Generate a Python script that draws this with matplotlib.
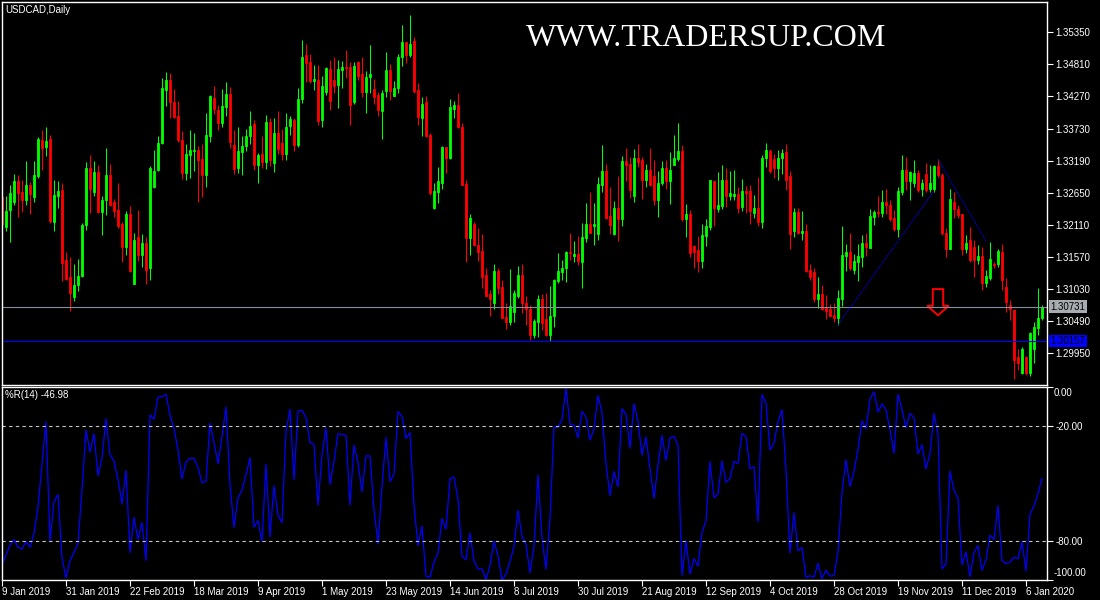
import numpy as np
import pandas as pd
import matplotlib
matplotlib.use('Agg')
import matplotlib.pyplot as plt
from matplotlib.patches import Polygon
import matplotlib.transforms as mtransforms

# USDCAD daily candles, 9 Jan 2019 .. 6 Jan 2020 (prices)
opens = [1.3258, 1.3208, 1.3236, 1.3250, 1.3285, 1.3266, 1.3253, 1.3278, 1.3258, 1.3293,
         1.3354, 1.3342, 1.3355, 1.3216, 1.3259, 1.3270, 1.3152, 1.3124, 1.3090, 1.3110,
         1.3125, 1.3211, 1.3306, 1.3267, 1.3300, 1.3233, 1.3253, 1.3295, 1.3250, 1.3236,
         1.3213, 1.3174, 1.3230, 1.3112, 1.3190, 1.3160, 1.3180, 1.3139, 1.3275, 1.3304,
         1.3348, 1.3438, 1.3455, 1.3418, 1.3394, 1.3354, 1.3299, 1.3329, 1.3336, 1.3337,
         1.3321, 1.3295, 1.3361, 1.3424, 1.3405, 1.3383, 1.3410, 1.3431, 1.3346, 1.3307,
         1.3334, 1.3344, 1.3360, 1.3381, 1.3312, 1.3330, 1.3316, 1.3384, 1.3315, 1.3366,
         1.3348, 1.3330, 1.3377, 1.3387, 1.3345, 1.3422, 1.3496, 1.3485, 1.3453, 1.3455,
         1.3387, 1.3434, 1.3474, 1.3454, 1.3446, 1.3471, 1.3476, 1.3476, 1.3418, 1.3485,
         1.3464, 1.3435, 1.3459, 1.3439, 1.3429, 1.3403, 1.3436, 1.3471, 1.3428, 1.3442,
         1.3493, 1.3519, 1.3496, 1.3520, 1.3438, 1.3391, 1.3417, 1.3362, 1.3239, 1.3266,
         1.3282, 1.3342, 1.3324, 1.3406, 1.3412, 1.3376, 1.3279, 1.3189, 1.3212, 1.3178,
         1.3167, 1.3126, 1.3094, 1.3080, 1.3133, 1.3107, 1.3056, 1.3048, 1.3064, 1.3092,
         1.3126, 1.3080, 1.3070, 1.3025, 1.3047, 1.3087, 1.3052, 1.3025, 1.3057, 1.3116,
         1.3132, 1.3139, 1.3166, 1.3159, 1.3162, 1.3149, 1.3189, 1.3212, 1.3209, 1.3195,
         1.3278, 1.3301, 1.3226, 1.3195, 1.3239, 1.3221, 1.3318, 1.3313, 1.3259, 1.3324,
         1.3320, 1.3287, 1.3303, 1.3293, 1.3253, 1.3282, 1.3306, 1.3285, 1.3311, 1.3322,
         1.3335, 1.3221, 1.3229, 1.3175, 1.3168, 1.3150, 1.3192, 1.3208, 1.3285, 1.3237,
         1.3243, 1.3287, 1.3260, 1.3259, 1.3263, 1.3241, 1.3268, 1.3268, 1.3231, 1.3240,
         1.3216, 1.3323, 1.3335, 1.3322, 1.3307, 1.3324, 1.3333, 1.3293, 1.3200, 1.3233,
         1.3198, 1.3201, 1.3135, 1.3131, 1.3086, 1.3095, 1.3071, 1.3069, 1.3059, 1.3055,
         1.3086, 1.3158, 1.3165, 1.3135, 1.3149, 1.3157, 1.3181, 1.3172, 1.3225, 1.3233,
         1.3231, 1.3250, 1.3245, 1.3222, 1.3204, 1.3267, 1.3304, 1.3284, 1.3281, 1.3299,
         1.3271, 1.3297, 1.3271, 1.3271, 1.3310, 1.3295, 1.3198, 1.3171, 1.3250, 1.3237,
         1.3229, 1.3170, 1.3186, 1.3174, 1.3152, 1.3159, 1.3113, 1.3122, 1.3146, 1.3146,
         1.3166, 1.3106, 1.3077, 1.3068, 1.2989, 1.2962, 1.2989, 1.2962, 1.3003, 1.3038,
         1.3054]
highs = [1.3272, 1.3259, 1.3278, 1.3296, 1.3295, 1.3286, 1.3318, 1.3283, 1.3318, 1.3358,
         1.3371, 1.3375, 1.3362, 1.3286, 1.3285, 1.3281, 1.3165, 1.3157, 1.3146, 1.3153,
         1.3215, 1.3317, 1.3328, 1.3318, 1.3312, 1.3259, 1.3340, 1.3313, 1.3254, 1.3281,
         1.3216, 1.3234, 1.3243, 1.3197, 1.3236, 1.3195, 1.3190, 1.3310, 1.3337, 1.3361,
         1.3458, 1.3469, 1.3467, 1.3439, 1.3419, 1.3369, 1.3347, 1.3371, 1.3365, 1.3344,
         1.3347, 1.3400, 1.3430, 1.3445, 1.3413, 1.3439, 1.3452, 1.3443, 1.3371, 1.3375,
         1.3360, 1.3373, 1.3403, 1.3388, 1.3332, 1.3361, 1.3395, 1.3390, 1.3391, 1.3402,
         1.3372, 1.3399, 1.3394, 1.3390, 1.3442, 1.3522, 1.3516, 1.3498, 1.3480, 1.3480,
         1.3461, 1.3477, 1.3489, 1.3493, 1.3488, 1.3486, 1.3505, 1.3485, 1.3485, 1.3486,
         1.3493, 1.3470, 1.3513, 1.3456, 1.3435, 1.3438, 1.3502, 1.3481, 1.3453, 1.3498,
         1.3547, 1.3519, 1.3564, 1.3527, 1.3449, 1.3426, 1.3428, 1.3366, 1.3282, 1.3309,
         1.3344, 1.3342, 1.3422, 1.3419, 1.3432, 1.3383, 1.3286, 1.3229, 1.3216, 1.3206,
         1.3195, 1.3139, 1.3102, 1.3145, 1.3139, 1.3119, 1.3080, 1.3136, 1.3102, 1.3142,
         1.3145, 1.3091, 1.3077, 1.3053, 1.3093, 1.3094, 1.3097, 1.3109, 1.3120, 1.3164,
         1.3152, 1.3167, 1.3198, 1.3184, 1.3192, 1.3215, 1.3248, 1.3267, 1.3247, 1.3291,
         1.3345, 1.3314, 1.3274, 1.3251, 1.3293, 1.3327, 1.3341, 1.3325, 1.3338, 1.3347,
         1.3325, 1.3314, 1.3341, 1.3320, 1.3301, 1.3318, 1.3320, 1.3334, 1.3362, 1.3383,
         1.3345, 1.3246, 1.3236, 1.3177, 1.3192, 1.3213, 1.3221, 1.3286, 1.3285, 1.3300,
         1.3311, 1.3307, 1.3301, 1.3304, 1.3274, 1.3289, 1.3276, 1.3278, 1.3261, 1.3291,
         1.3328, 1.3349, 1.3338, 1.3331, 1.3337, 1.3338, 1.3347, 1.3302, 1.3239, 1.3239,
         1.3235, 1.3213, 1.3146, 1.3138, 1.3124, 1.3110, 1.3093, 1.3078, 1.3079, 1.3102,
         1.3209, 1.3179, 1.3197, 1.3162, 1.3179, 1.3194, 1.3197, 1.3238, 1.3236, 1.3259,
         1.3270, 1.3272, 1.3253, 1.3236, 1.3274, 1.3329, 1.3325, 1.3302, 1.3320, 1.3303,
         1.3289, 1.3315, 1.3312, 1.3312, 1.3321, 1.3298, 1.3205, 1.3271, 1.3267, 1.3244,
         1.3230, 1.3194, 1.3207, 1.3186, 1.3177, 1.3174, 1.3135, 1.3183, 1.3149, 1.3170,
         1.3179, 1.3121, 1.3085, 1.3069, 1.3003, 1.3006, 1.2990, 1.3031, 1.3048, 1.3105,
         1.3076]
lows = [1.3208, 1.3201, 1.3183, 1.3244, 1.3225, 1.3233, 1.3244, 1.3230, 1.3250, 1.3290,
        1.3303, 1.3327, 1.3215, 1.3201, 1.3240, 1.3117, 1.3118, 1.3066, 1.3083, 1.3100,
        1.3124, 1.3202, 1.3231, 1.3259, 1.3231, 1.3194, 1.3227, 1.3243, 1.3224, 1.3205,
        1.3149, 1.3160, 1.3132, 1.3112, 1.3150, 1.3140, 1.3112, 1.3118, 1.3273, 1.3301,
        1.3347, 1.3411, 1.3390, 1.3390, 1.3351, 1.3288, 1.3286, 1.3290, 1.3301, 1.3250,
        1.3258, 1.3274, 1.3351, 1.3398, 1.3371, 1.3375, 1.3394, 1.3341, 1.3297, 1.3298,
        1.3295, 1.3336, 1.3347, 1.3304, 1.3282, 1.3306, 1.3305, 1.3310, 1.3300, 1.3330,
        1.3320, 1.3320, 1.3363, 1.3335, 1.3342, 1.3416, 1.3452, 1.3449, 1.3438, 1.3379,
        1.3376, 1.3430, 1.3405, 1.3432, 1.3408, 1.3442, 1.3458, 1.3379, 1.3414, 1.3454,
        1.3426, 1.3399, 1.3433, 1.3414, 1.3394, 1.3356, 1.3426, 1.3421, 1.3428, 1.3432,
        1.3478, 1.3484, 1.3493, 1.3433, 1.3379, 1.3360, 1.3359, 1.3261, 1.3238, 1.3248,
        1.3272, 1.3298, 1.3322, 1.3391, 1.3374, 1.3278, 1.3149, 1.3160, 1.3175, 1.3150,
        1.3105, 1.3091, 1.3058, 1.3070, 1.3095, 1.3054, 1.3036, 1.3042, 1.3048, 1.3088,
        1.3062, 1.3042, 1.3018, 1.3021, 1.3022, 1.3034, 1.3024, 1.3016, 1.3039, 1.3113,
        1.3118, 1.3115, 1.3152, 1.3149, 1.3144, 1.3105, 1.3182, 1.3198, 1.3177, 1.3185,
        1.3267, 1.3221, 1.3195, 1.3194, 1.3184, 1.3209, 1.3285, 1.3257, 1.3250, 1.3309,
        1.3254, 1.3275, 1.3276, 1.3244, 1.3224, 1.3278, 1.3271, 1.3246, 1.3311, 1.3319,
        1.3217, 1.3191, 1.3157, 1.3139, 1.3132, 1.3139, 1.3175, 1.3202, 1.3209, 1.3233,
        1.3238, 1.3241, 1.3253, 1.3253, 1.3231, 1.3234, 1.3231, 1.3212, 1.3223, 1.3209,
        1.3205, 1.3309, 1.3299, 1.3290, 1.3287, 1.3296, 1.3269, 1.3171, 1.3191, 1.3196,
        1.3185, 1.3131, 1.3119, 1.3082, 1.3071, 1.3068, 1.3052, 1.3057, 1.3048, 1.3043,
        1.3074, 1.3134, 1.3135, 1.3128, 1.3116, 1.3141, 1.3159, 1.3172, 1.3211, 1.3225,
        1.3224, 1.3229, 1.3217, 1.3200, 1.3190, 1.3261, 1.3269, 1.3253, 1.3275, 1.3267,
        1.3260, 1.3267, 1.3267, 1.3267, 1.3292, 1.3194, 1.3157, 1.3170, 1.3222, 1.3222,
        1.3161, 1.3163, 1.3149, 1.3124, 1.3146, 1.3102, 1.3107, 1.3119, 1.3138, 1.3141,
        1.3102, 1.3065, 1.3051, 1.2951, 1.2967, 1.2961, 1.2958, 1.2956, 1.2978, 1.3026,
        1.3051]
closes = [1.3213, 1.3234, 1.3264, 1.3285, 1.3265, 1.3253, 1.3278, 1.3263, 1.3295, 1.3355,
          1.3341, 1.3352, 1.3218, 1.3261, 1.3268, 1.3147, 1.3120, 1.3097, 1.3110, 1.3125,
          1.3211, 1.3306, 1.3271, 1.3300, 1.3233, 1.3253, 1.3295, 1.3244, 1.3235, 1.3209,
          1.3174, 1.3229, 1.3134, 1.3186, 1.3160, 1.3180, 1.3135, 1.3307, 1.3302, 1.3348,
          1.3441, 1.3455, 1.3417, 1.3392, 1.3353, 1.3299, 1.3330, 1.3337, 1.3337, 1.3320,
          1.3295, 1.3362, 1.3428, 1.3406, 1.3382, 1.3411, 1.3431, 1.3350, 1.3305, 1.3336,
          1.3344, 1.3360, 1.3378, 1.3311, 1.3329, 1.3316, 1.3384, 1.3320, 1.3365, 1.3339,
          1.3330, 1.3375, 1.3389, 1.3345, 1.3422, 1.3493, 1.3484, 1.3453, 1.3456, 1.3386,
          1.3444, 1.3475, 1.3420, 1.3444, 1.3473, 1.3476, 1.3475, 1.3412, 1.3478, 1.3461,
          1.3435, 1.3459, 1.3464, 1.3426, 1.3404, 1.3432, 1.3472, 1.3436, 1.3442, 1.3493,
          1.3518, 1.3496, 1.3515, 1.3436, 1.3393, 1.3414, 1.3360, 1.3265, 1.3268, 1.3284,
          1.3342, 1.3324, 1.3409, 1.3412, 1.3375, 1.3278, 1.3189, 1.3222, 1.3177, 1.3165,
          1.3124, 1.3092, 1.3086, 1.3133, 1.3105, 1.3054, 1.3048, 1.3074, 1.3096, 1.3126,
          1.3080, 1.3069, 1.3025, 1.3049, 1.3087, 1.3046, 1.3025, 1.3057, 1.3118, 1.3133,
          1.3139, 1.3166, 1.3163, 1.3162, 1.3150, 1.3190, 1.3212, 1.3198, 1.3212, 1.3279,
          1.3301, 1.3223, 1.3210, 1.3240, 1.3221, 1.3318, 1.3311, 1.3269, 1.3324, 1.3317,
          1.3287, 1.3303, 1.3278, 1.3253, 1.3281, 1.3306, 1.3285, 1.3304, 1.3323, 1.3335,
          1.3221, 1.3230, 1.3164, 1.3166, 1.3150, 1.3194, 1.3209, 1.3286, 1.3239, 1.3244,
          1.3287, 1.3259, 1.3264, 1.3263, 1.3240, 1.3268, 1.3265, 1.3235, 1.3240, 1.3216,
          1.3323, 1.3337, 1.3302, 1.3307, 1.3323, 1.3332, 1.3287, 1.3196, 1.3233, 1.3198,
          1.3201, 1.3134, 1.3124, 1.3086, 1.3095, 1.3070, 1.3067, 1.3058, 1.3055, 1.3088,
          1.3160, 1.3165, 1.3138, 1.3151, 1.3158, 1.3180, 1.3173, 1.3226, 1.3233, 1.3231,
          1.3250, 1.3245, 1.3221, 1.3204, 1.3268, 1.3304, 1.3284, 1.3300, 1.3299, 1.3270,
          1.3282, 1.3270, 1.3281, 1.3310, 1.3295, 1.3198, 1.3171, 1.3254, 1.3237, 1.3228,
          1.3170, 1.3181, 1.3152, 1.3152, 1.3159, 1.3113, 1.3125, 1.3153, 1.3143, 1.3167,
          1.3119, 1.3082, 1.3069, 1.2984, 1.2979, 1.3002, 1.2962, 1.3030, 1.3040, 1.3055,
          1.30731]

# %R values of the first bars (their 14-day window reaches before the chart)
wr_warmup = [-92, -87, -82, -79, -83, -84, -80, -83, -76, -62, -40, -18, -80]

date_pos = [0, 16, 32, 48, 64, 80, 96, 112, 128, 144, 160, 176, 192, 208, 224, 240, 256]
date_labels = ['9 Jan 2019', '31 Jan 2019', '22 Feb 2019', '18 Mar 2019', '9 Apr 2019',
               '1 May 2019', '23 May 2019', '14 Jun 2019', '8 Jul 2019', '30 Jul 2019',
               '21 Aug 2019', '12 Sep 2019', '4 Oct 2019', '28 Oct 2019', '19 Nov 2019',
               '11 Dec 2019', '6 Jan 2020']
price_ticks = [1.35350, 1.34810, 1.34270, 1.33730, 1.33190, 1.32650,
               1.32110, 1.31570, 1.31030, 1.30490, 1.29950]
bid_price = 1.30731
hline_price = 1.30157

# hand drawn objects on the chart
trend_up_x = [209, 233]
trend_up_y = [1.3043, 1.3268]
trend_dn_x = [234, 246]
trend_dn_y = [1.3321, 1.3184]
arrow_x = [232.7, 235.3, 235.3, 236.7, 234.0, 231.3, 232.7]
arrow_y = [1.3103, 1.3103, 1.3075, 1.3075, 1.3059, 1.3075, 1.3075]

wr_period = 14
wr_label = '%R(14) -46.98'

UP = '#00ff00'
DOWN = '#ff0000'
WHITE = '#ffffff'

plt.rcParams['font.family'] = ['Liberation Sans', 'DejaVu Sans']

o = np.array(opens)
h = np.array(highs)
l = np.array(lows)
c = np.array(closes)
x = np.arange(len(c))
cols = np.where(c >= o, UP, DOWN)

# Williams %R
hh = pd.Series(h).rolling(wr_period).max()
ll = pd.Series(l).rolling(wr_period).min()
wr = ((hh - c) / (hh - ll) * -100).to_numpy()
wr[:len(wr_warmup)] = wr_warmup

fig = plt.figure(figsize=(11, 6), dpi=100, facecolor='black')
ax = fig.add_axes([2/1100, 1 - 385/600, 1045/1100, 383/600])
ax2 = fig.add_axes([2/1100, 1 - 580/600, 1045/1100, 193/600])

for a in (ax, ax2):
    a.set_facecolor('black')
    for s in a.spines.values():
        s.set_color(WHITE)
        s.set_linewidth(1)
    a.set_xlim(0, 261.25)
    a.yaxis.tick_right()
    a.tick_params(axis='y', colors=WHITE, direction='out', length=4, width=0.8,
                  labelsize=7, pad=2)

# candles
ax.vlines(x, l, h, colors=cols, linewidth=0.75)
ax.bar(x, np.abs(c - o), bottom=np.minimum(o, c), width=0.55, color=cols,
       edgecolor=cols, linewidth=0.6)

ax.set_ylim(1.29417, 1.35859)
ax.set_yticks(price_ticks)
ax.set_yticklabels([f'{p:.5f}' for p in price_ticks])
ax.set_xticks([])

ax.axhline(bid_price, color='#8090a0', linewidth=0.8)
ax.axhline(hline_price, color='#0000ff', linewidth=0.8)
ax.plot(trend_up_x, trend_up_y, color='#0000ff', linewidth=0.8, linestyle=(0, (1, 1)))
ax.plot(trend_dn_x, trend_dn_y, color='#0000ff', linewidth=0.8, linestyle=(0, (1, 1)))
ax.add_patch(Polygon(np.column_stack([arrow_x, arrow_y]), closed=True, fill=False,
                     edgecolor='#ff0000', linewidth=1.4))

trans = mtransforms.blended_transform_factory(ax.transAxes, ax.transData)
ax.text(1.0035, bid_price, f'{bid_price:.5f}', transform=trans, fontsize=7, color='black',
        va='center', ha='left',
        bbox=dict(boxstyle='square,pad=0.15', facecolor='#a8acb0', edgecolor='none'))
ax.text(1.0035, hline_price, f'{hline_price:.5f}', transform=trans, fontsize=7, color='black',
        va='center', ha='left',
        bbox=dict(boxstyle='square,pad=0.15', facecolor='#0000ff', edgecolor='none'))

ax.text(0.003, 0.993, 'USDCAD,Daily', transform=ax.transAxes, color=WHITE, fontsize=7,
        va='top', ha='left')
ax.text(0.6737, 0.906, 'WWW.TRADERSUP.COM', transform=ax.transAxes, color=WHITE,
        fontsize=23, family='Liberation Serif', va='center', ha='center')

# %R panel
ax2.plot(x, wr, color='#0000ff', linewidth=0.9)
ax2.set_ylim(-100, 0)
ax2.axhline(-20, color='#c8c8c8', linewidth=0.8, linestyle=(0, (3, 3)))
ax2.axhline(-80, color='#c8c8c8', linewidth=0.8, linestyle=(0, (3, 3)))
ax2.set_yticks([0, -20, -80, -100])
ax2.set_yticklabels(['', '-20.00', '-80.00', ''])
trans2 = mtransforms.blended_transform_factory(ax2.transAxes, ax2.transData)
ax2.text(1.0065, -0.5, '0.00', transform=trans2, color=WHITE, fontsize=7, va='top', ha='left')
ax2.text(1.0065, -99, '-100.00', transform=trans2, color=WHITE, fontsize=7,
         va='bottom', ha='left')
ax2.text(0.003, 0.985, wr_label, transform=ax2.transAxes, color=WHITE, fontsize=7,
         va='top', ha='left')

ax2.set_xticks(date_pos)
ax2.set_xticklabels(date_labels)
ax2.tick_params(axis='x', colors=WHITE, direction='out', length=4, width=0.8,
                labelsize=7, pad=1)
for lab in ax2.get_xticklabels():
    lab.set_ha('left')

fig.savefig('out.png', dpi=100, facecolor='black')
